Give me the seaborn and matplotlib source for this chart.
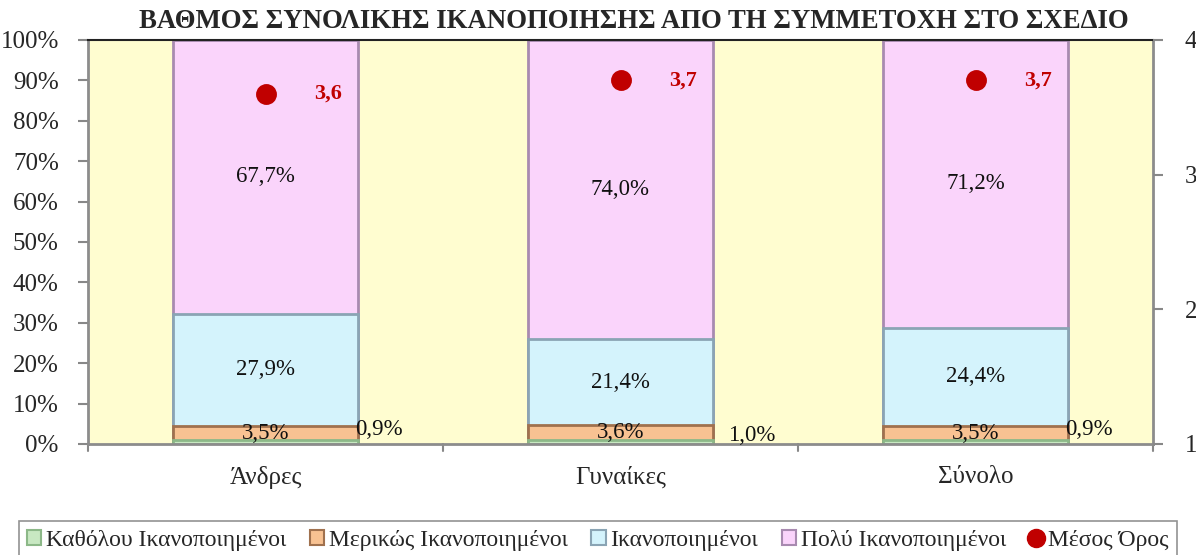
import numpy as np
import pandas as pd
import matplotlib.pyplot as plt
import matplotlib.patches as mpatches
import matplotlib.lines as mlines
import seaborn as sns

# Data
categories = ["Άνδρες", "Γυναίκες", "Σύνολο"]
katholou = [0.9, 1.0, 0.9]
merikos = [3.5, 3.6, 3.5]
ikanop = [27.9, 21.4, 24.4]
poly = [67.7, 74.0, 71.2]
mesos_oros = [3.6, 3.7, 3.7]

series_names = ["Καθόλου Ικανοποιημένοι", "Μερικώς Ικανοποιημένοι",
                "Ικανοποιημένοι", "Πολύ Ικανοποιημένοι"]
series_vals = [katholou, merikos, ikanop, poly]
fills = ["#C8E8C2", "#F8C292", "#D4F3FC", "#FAD4FB"]
edges = ["#8CB888", "#A0714E", "#8AA4B4", "#A88AB0"]

sns.set_theme(style="white")
plt.rcParams["font.family"] = ["Liberation Serif", "DejaVu Serif"]

df = pd.DataFrame(dict(zip(series_names, series_vals)), index=categories)
cum = df.cumsum(axis=1)

fig = plt.figure(figsize=(11.96, 5.55), dpi=100)
ax = fig.add_axes([88 / 1196, 1 - 444 / 555, (1153 - 88) / 1196, (444 - 40) / 555])
ax.set_facecolor("#FFFDD0")

# stacked bars: draw cumulative totals from the top layer down
for name, fc, ec in reversed(list(zip(series_names, fills, edges))):
    sns.barplot(x=categories, y=cum[name].values, color=fc, saturation=1,
                width=0.52, edgecolor=ec, linewidth=2, ax=ax, zorder=2)

ax.set_ylim(0, 100)
ax.set_xlim(-0.5, 2.5)
ax.set_yticks(np.arange(0, 101, 10))
ax.set_yticklabels([f"{v}%" for v in range(0, 101, 10)], fontsize=18)
ax.set_xticks(range(len(categories)))
ax.set_xticklabels(categories, fontsize=18)
ax.tick_params(axis="x", length=0, pad=16)
ax.tick_params(axis="y", length=7, width=1.5, color="#888888", direction="out", pad=14, left=True)
# boundary tick marks on category axis
for b in np.arange(-0.5, 2.6, 1.0):
    ax.plot([b, b], [0, -1.8], color="#888888", lw=1.5, clip_on=False, zorder=1)
for side in ["left", "bottom", "right"]:
    ax.spines[side].set_color("#8C8C8C")
    ax.spines[side].set_linewidth(2)
ax.spines["top"].set_color("#222222")
ax.spines["top"].set_linewidth(1.5)
ax.set_xlabel("")
ax.set_ylabel("")

# segment labels
for i, cat in enumerate(categories):
    bottoms = [0] + list(cum.loc[cat].values[:-1])
    for j, name in enumerate(series_names):
        v = df.loc[cat, name]
        lbl = f"{v:.1f}%".replace(".", ",")
        if j == 0:
            dx = 0.32 if i != 1 else 0.37
            ax.text(i + dx, v + 2.6 if i != 1 else v + 1.0, lbl, ha="center", va="center",
                    fontsize=16.5, color="#111111", zorder=5)
        else:
            ax.text(i, bottoms[j] + v / 2, lbl, ha="center", va="center",
                    fontsize=16.5, color="#111111", zorder=5)

# mean on secondary axis
ax2 = ax.twinx()
sns.pointplot(x=categories, y=mesos_oros, color="#C00000", linestyle="none",
              markers="o", markersize=13, ax=ax2, zorder=6)
ax2.set_ylim(1, 4)
ax2.set_xlim(-0.5, 2.5)
ax2.set_yticks([1, 2, 3, 4])
ax2.set_yticklabels(["1", "2", "3", "4"], fontsize=18)
ax2.tick_params(axis="y", length=7, width=1.5, color="#888888", direction="out", pad=16, right=True)
for s in ax2.spines.values():
    s.set_visible(False)
ax2.set_ylabel("")
for i, m in enumerate(mesos_oros):
    ax2.annotate(f"{m:.1f}".replace(".", ","), (i, m), xytext=(45, 0),
                 textcoords="offset points", ha="center", va="center",
                 fontsize=16, fontweight="bold", color="#C00000")

fig.text(634 / 1196, 1 - 21 / 555, "ΒΑΘΜΟΣ ΣΥΝΟΛΙΚΗΣ ΙΚΑΝΟΠΟΙΗΣΗΣ ΑΠΟ ΤΗ ΣΥΜΜΕΤΟΧΗ ΣΤΟ ΣΧΕΔΙΟ",
         ha="center", va="center", fontsize=19.3, fontweight="bold")

handles = [mpatches.Patch(facecolor=fc, edgecolor=ec, linewidth=1.5, label=n)
           for n, fc, ec in zip(series_names, fills, edges)]
handles.append(mlines.Line2D([], [], color="#C00000", marker="o", linestyle="none",
                             markersize=13, label="Μέσος Όρος"))
leg = fig.legend(handles=handles, loc="lower center", bbox_to_anchor=(0.5, -0.02), ncol=5,
                 fontsize=17, frameon=True, fancybox=False, edgecolor="#777777",
                 handlelength=0.6, handleheight=0.6, handletextpad=0.2, columnspacing=1.0,
                 borderpad=0.35, borderaxespad=0.3)
leg.get_frame().set_linewidth(1.2)

fig.savefig("out.png", dpi=100)
